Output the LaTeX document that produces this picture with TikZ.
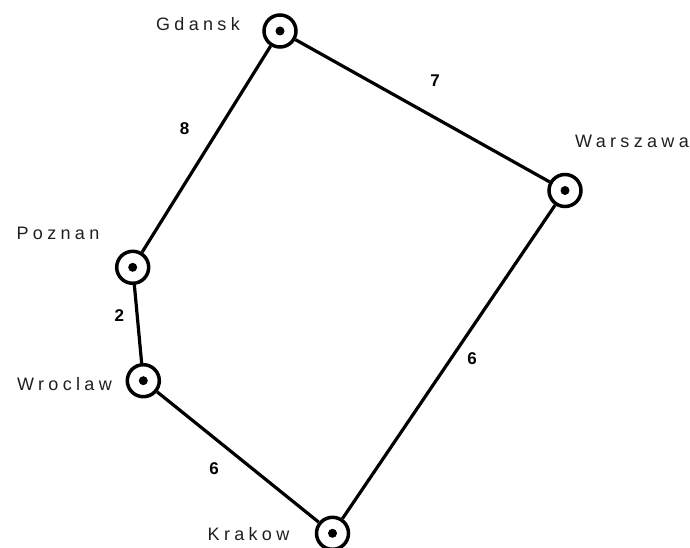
\documentclass[tikz,border=0pt]{standalone}
\usepackage{fontspec}
\setmainfont{Liberation Sans}
\newfontfamily\cityfont[LetterSpace=24]{Liberation Sans}
\begin{document}
\begin{tikzpicture}[x=1pt,y=-1pt,
  city/.style={circle,draw,line width=3.5pt,minimum size=32pt,inner sep=0pt},
  cityname/.style={font=\cityfont\fontsize{18}{21}\selectfont,text=black!88,inner sep=0pt},
  weight/.style={font=\bfseries\fontsize{17}{20}\selectfont,inner sep=0pt},
  edge/.style={line width=3.2pt}]
\useasboundingbox (0,0) rectangle (690,548);
\node[city] (gd) at (280,31) {};
\node[city] (wa) at (565,190.5) {};
\node[city] (po) at (132.7,267.3) {};
\node[city] (wr) at (143.3,380.7) {};
\node[city] (kr) at (332.5,533.3) {};
\foreach \n in {gd,wa,po,wr,kr} \fill (\n.center) circle (4.5);
\node[cityname] (lgd) at (198,24) {Gdansk};
\node[cityname] (lwa) at (632,141) {Warszawa};
\node[cityname] (lpo) at (58,233.5) {Poznan};
\node[cityname] (lwr) at (64.5,384.5) {Wroclaw};
\node[cityname] (lkr) at (248.5,534.5) {Krakow};
\draw[edge] (gd) -- (wa);
\draw[edge] (gd) -- (po);
\draw[edge] (po) -- (wr);
\draw[edge] (wr) -- (kr);
\draw[edge] (kr) -- (wa);
\node[weight] (w1) at (435,81) {7};
\node[weight] (w2) at (184.5,128.5) {8};
\node[weight] (w3) at (119.3,316) {2};
\node[weight] (w4) at (214,469) {6};
\node[weight] (w5) at (472,359) {6};
\end{tikzpicture}
\end{document}
